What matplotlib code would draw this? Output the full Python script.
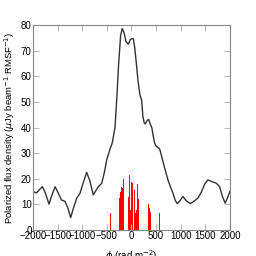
import matplotlib
matplotlib.use("Agg")
import matplotlib.pyplot as plt

# Faraday depth spectrum
PHI = [
    -2000, -1930, -1870, -1810, -1750, -1675, -1610, -1550, -1490, -1420,
    -1350, -1290, -1235, -1180, -1113, -1046, -980, -910, -850, -775,
    -720, -674, -605, -550, -504, -437, -390, -335, -300, -260,
    -220, -187, -150, -110, -65, -20, 37, 65, 100, 132,
    170, 207, 233, 260, 280, 320, 349, 380, 416, 437,
    470, 504, 540, 572, 605, 670, 741, 790, 843, 890,
    930, 990, 1046, 1110, 1195, 1270, 1350, 1420, 1490, 1553,
    1620, 1722, 1790, 1850, 1904, 1950, 2000,
]
FLUX = [
    15.0, 14.5, 15.8, 16.9, 14.5, 10.1, 14.0, 16.9, 14.5, 11.7,
    11.2, 8.5, 4.8, 8.5, 12.4, 14.3, 18.5, 22.5, 19.5, 13.7,
    15.5, 16.9, 18.2, 22.5, 27.3, 31.5, 34.0, 40.0, 50.7, 65.0,
    76.0, 78.7, 77.0, 73.5, 72.6, 74.5, 74.8, 71.5, 65.0, 58.5,
    53.0, 50.7, 44.2, 41.8, 41.4, 42.8, 43.2, 41.5, 39.8, 37.2,
    34.0, 32.7, 32.2, 31.7, 29.4, 24.5, 19.6, 17.0, 14.4, 11.5,
    10.3, 11.5, 13.1, 11.5, 10.3, 11.2, 12.5, 14.8, 18.0, 19.6,
    19.0, 18.3, 17.0, 13.0, 10.5, 12.5, 15.1,
]

# clean components
CC_PHI = [
    -420, -250, -235, -225, -210, -195, -180, -165, -155, -65,
    -45, -35, -20, 5, 15, 30, 60, 80, 100, 122,
    142, 340, 355, 370, 390, 560,
]
CC_FLUX = [
    6.8, 10.2, 12.5, 15.0, 15.2, 16.9, 16.5, 19.8, 19.5, 13.0,
    21.5, 20.5, 7.8, 18.9, 18.5, 15.6, 15.6, 6.8, 7.8, 17.9,
    12.1, 10.1, 9.8, 8.5, 7.0, 6.8,
]

plt.rcParams["font.family"] = ["Liberation Sans", "DejaVu Sans"]

fig = plt.figure(figsize=(2.56, 2.56), dpi=100)
ax = fig.add_axes([0.129, 0.1016, 0.769, 0.8])

ax.bar(CC_PHI, CC_FLUX, width=20, color="#ff0000", linewidth=0)
ax.plot(PHI, FLUX, color="#333333", lw=1.0)

ax.set_xlim(-2000, 2000)
ax.set_ylim(0, 80)
ax.set_xticks(range(-2000, 2001, 500))
ax.set_yticks(range(0, 81, 10))

for s in ax.spines.values():
    s.set_color("#888888")
    s.set_linewidth(0.8)
ax.tick_params(direction="in", top=True, right=True, length=4, width=0.8,
               color="#bbbbbb", labelsize=7, pad=1)

ax.set_ylabel(r"Polarized flux density ($\mu$Jy beam$^{-1}$ RMSF$^{-1}$)",
              fontsize=6.8, labelpad=3)
ax.set_xlabel(r"$\phi$ (rad m$^{-2}$)", fontsize=7, labelpad=5)

fig.savefig("out.png", dpi=100)
